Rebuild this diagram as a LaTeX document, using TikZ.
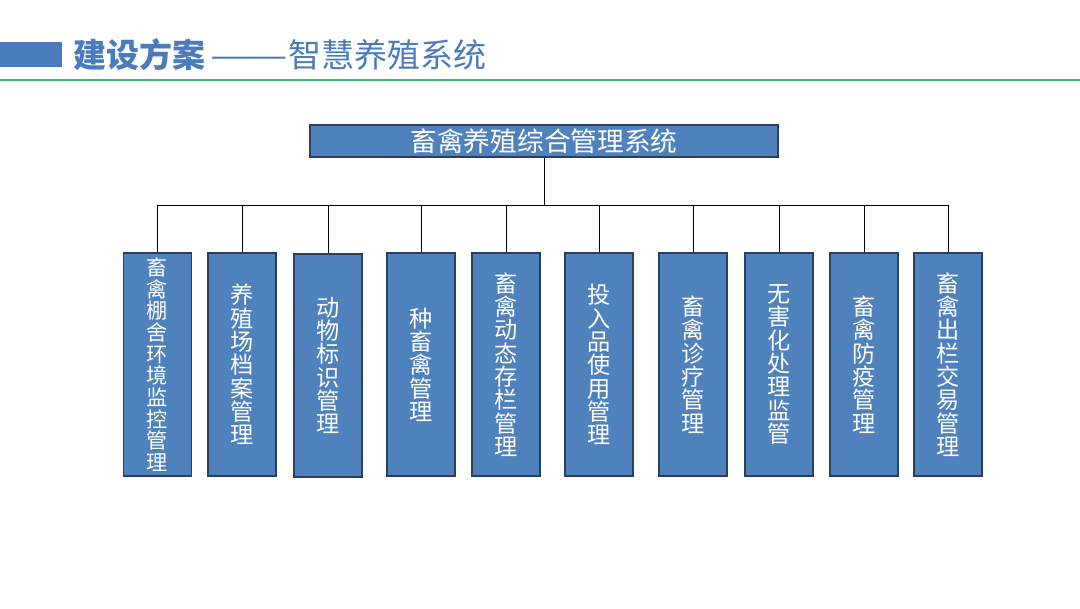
\documentclass[tikz,border=0pt]{standalone}
\usepackage{fontspec}
\setmainfont{Noto Sans CJK SC}
\newfontfamily\cjk{Noto Sans CJK SC}
\usetikzlibrary{positioning}

\definecolor{boxblue}{HTML}{4F81BD}
\definecolor{boxline}{HTML}{2B3F5C}
\definecolor{titleblue}{HTML}{4A7BBD}
\definecolor{linegreen}{HTML}{3DB66E}

\tikzset{
  sysbox/.style={draw=boxline, line width=0.8pt, fill=boxblue, text=white,
    minimum width=468*0.025cm, minimum height=32*0.025cm, inner sep=0pt,
    font=\cjk\fontsize{19}{20}\selectfont},
  subbox/.style={draw=boxline, line width=0.8pt, fill=boxblue, text=white,
    minimum width=68*0.025cm, minimum height=223*0.025cm, inner sep=0pt,
    align=center, font={\cjk\fontsize{16.5}{16.6}\selectfont\lineskiplimit-20pt}},
  tightbox/.style={subbox, font={\cjk\fontsize{15}{15.4}\selectfont\lineskiplimit-20pt}},
  link/.style={draw=black, line width=0.6pt}
}

\begin{document}
\begin{tikzpicture}[x=0.025cm, y=-0.025cm]
    \useasboundingbox (0,0) rectangle (1080,608);

    % header
    \fill[titleblue] (0,42) rectangle (62,67);
    \node[anchor=west, inner sep=0pt, text=titleblue, font=\cjk\fontsize{23.5}{24}\selectfont]
        (title) at (73,55) {\textbf{建设方案}\,\scalebox{1.4}[1]{——}智慧养殖系统};
    \draw[linegreen, line width=1.6pt] (0,80) -- (1080,80);

    \node [sysbox] (sys) at (544 , 141) {畜禽养殖综合管理系统};
    \coordinate (bus) at (544 , 205);

    \node [tightbox] (m1) at (157.5 , 364.5) {畜\\禽\\棚\\舍\\环\\境\\监\\控\\管\\理};
    \node [subbox] (m2) at (242 , 364.5) {养\\殖\\场\\档\\案\\管\\理};
    \node [subbox] (m3) at (328 , 365.5) {动\\物\\标\\识\\管\\理};
    \node [subbox] (m4) at (421 , 364.5) {种\\畜\\禽\\管\\理};
    \node [subbox] (m5) at (506 , 364.5) {畜\\禽\\动\\态\\存\\栏\\管\\理};
    \node [subbox] (m6) at (599 , 364.5) {投\\入\\品\\使\\用\\管\\理};
    \node [subbox] (m7) at (693 , 364.5) {畜\\禽\\诊\\疗\\管\\理};
    \node [subbox] (m8) at (779 , 364.5) {无\\害\\化\\处\\理\\监\\管};
    \node [subbox] (m9) at (864 , 364.5) {畜\\禽\\防\\疫\\管\\理};
    \node [subbox] (m10) at (948 , 364.5) {畜\\禽\\出\\栏\\交\\易\\管\\理};

 \path[link]
      (sys) -- (bus)
      (bus) -| (m1)
      (bus) -| (m2)
      (bus) -| (m3)
      (bus) -| (m4)
      (bus) -| (m5)
      (bus) -| (m6)
      (bus) -| (m7)
      (bus) -| (m8)
      (bus) -| (m9)
      (bus) -| (m10);
\end{tikzpicture}
\end{document}
